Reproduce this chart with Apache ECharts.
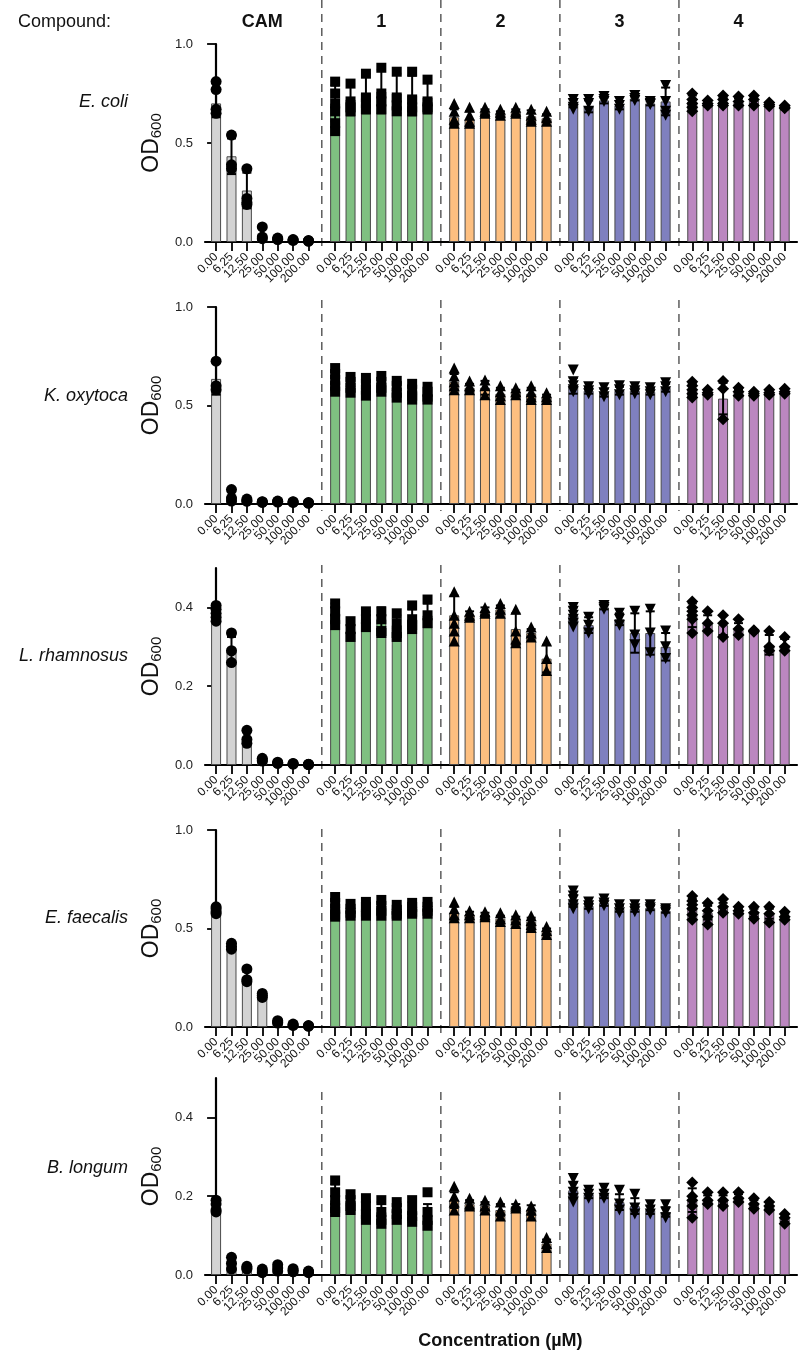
<!DOCTYPE html>
<html><head><meta charset="utf-8">
<script src="https://cdn.jsdelivr.net/npm/echarts@6/dist/echarts.min.js"></script>
<style>html,body{margin:0;padding:0;background:#fff}#c{width:799px;height:1356px}</style>
</head><body><div id="c"></div>
<script>
const compounds = ['CAM','1','2','3','4'];
const concLabels = ['0.00','6.25','12.50','25.00','50.00','100.00','200.00'];
const organisms = ['E. coli','K. oxytoca','L. rhamnosus','E. faecalis','B. longum'];
const yTickVals = [[0,0.5,1],[0,0.5,1],[0,0.2,0.4],[0,0.5,1],[0,0.2,0.4]];
const yMaxes = [1, 1, 0.5, 1, 0.5];

// E. coli
const ecoliMean = [
 [0.70,0.433,0.26,0.04,0.015,0.01,0.005],
 [0.70,0.72,0.75,0.76,0.75,0.74,0.73],
 [0.63,0.62,0.655,0.645,0.655,0.635,0.625],
 [0.70,0.685,0.715,0.69,0.725,0.70,0.71],
 [0.71,0.70,0.71,0.705,0.715,0.695,0.68]
];
const ecoliErr = [
 [0.07,0.09,0.09,0.03,0.005,0.004,0.003],
 [0.09,0.08,0.10,0.11,0.10,0.10,0.08],
 [0.04,0.04,0.015,0.015,0.015,0.03,0.02],
 [0.02,0.03,0.015,0.02,0.01,0.01,0.07],
 [0.03,0.015,0.02,0.02,0.02,0.01,0.01]
];
const ecoliPts = [
 [[0.81,0.77,0.67,0.65],[0.54,0.39,0.37],[0.37,0.22,0.20,0.19],[0.076,0.025,0.017],[0.02,0.015,0.012],[0.012,0.01,0.008],[0.007,0.005,0.004]],
 [[0.81,0.75,0.70,0.66,0.60,0.56],[0.80,0.71,0.68,0.66],[0.85,0.73,0.70,0.67],[0.88,0.75,0.71,0.67],[0.86,0.73,0.69,0.66],[0.86,0.72,0.68,0.66],[0.82,0.71,0.68,0.67]],
 [[0.70,0.66,0.62,0.60],[0.68,0.64,0.61,0.60],[0.68,0.66,0.65],[0.67,0.655,0.64],[0.68,0.66,0.65],[0.67,0.64,0.62,0.61],[0.66,0.63,0.61]],
 [[0.72,0.70,0.68,0.67],[0.72,0.70,0.66],[0.735,0.72,0.71],[0.71,0.69,0.67],[0.74,0.725,0.715],[0.71,0.70,0.695],[0.79,0.71,0.66,0.64]],
 [[0.75,0.72,0.70,0.68,0.66],[0.715,0.70,0.69],[0.74,0.72,0.70,0.69],[0.735,0.71,0.69],[0.74,0.72,0.69],[0.705,0.695,0.685],[0.69,0.68,0.675]]
];
// K. oxytoca
const koxyMean = [
 [0.635,0.04,0.018,0.01,0.012,0.01,0.005],
 [0.62,0.60,0.59,0.605,0.58,0.57,0.56],
 [0.62,0.59,0.59,0.56,0.565,0.56,0.54],
 [0.60,0.575,0.565,0.575,0.575,0.57,0.59],
 [0.58,0.565,0.535,0.565,0.56,0.565,0.57]
];
const koxyErr = [
 [0.08,0.03,0.005,0.003,0.003,0.002,0.002],
 [0.05,0.03,0.04,0.035,0.035,0.035,0.03],
 [0.04,0.02,0.035,0.03,0.015,0.03,0.015],
 [0.04,0.015,0.02,0.02,0.015,0.015,0.02],
 [0.03,0.01,0.08,0.015,0.01,0.01,0.01]
];
const koxyPts = [
 [[0.725,0.60,0.58],[0.073,0.03,0.015],[0.025,0.015,0.015],[0.012,0.01,0.008],[0.015,0.012,0.01],[0.012,0.01,0.008],[0.007,0.005,0.004]],
 [[0.69,0.66,0.63,0.60,0.57],[0.645,0.62,0.59,0.565],[0.64,0.61,0.58,0.55],[0.65,0.62,0.59,0.57],[0.625,0.60,0.565,0.54],[0.61,0.58,0.55,0.53],[0.595,0.57,0.545,0.53]],
 [[0.69,0.65,0.62,0.60,0.58],[0.625,0.60,0.58],[0.63,0.60,0.555],[0.60,0.57,0.55,0.53],[0.59,0.57,0.555],[0.60,0.57,0.545,0.53],[0.565,0.545,0.53]],
 [[0.68,0.62,0.60,0.58,0.57],[0.595,0.575,0.56],[0.59,0.565,0.545],[0.60,0.58,0.555],[0.595,0.575,0.56],[0.59,0.57,0.555],[0.615,0.595,0.57]],
 [[0.62,0.60,0.58,0.56,0.54],[0.58,0.565,0.555],[0.625,0.585,0.43],[0.59,0.57,0.55],[0.57,0.56,0.55],[0.58,0.565,0.555],[0.585,0.57,0.56]]
];
// L. rhamnosus
const lrhaMean = [
 [0.385,0.29,0.068,0.013,0.005,0.003,0.001],
 [0.385,0.34,0.37,0.37,0.355,0.37,0.38],
 [0.38,0.38,0.39,0.395,0.345,0.335,0.27],
 [0.38,0.355,0.40,0.37,0.335,0.335,0.30],
 [0.38,0.36,0.355,0.345,0.34,0.305,0.305]
];
const lrhaErr = [
 [0.015,0.035,0.015,0.003,0.002,0.001,0.001],
 [0.025,0.02,0.02,0.03,0.025,0.025,0.03],
 [0.05,0.01,0.01,0.01,0.04,0.01,0.035],
 [0.02,0.02,0.005,0.015,0.05,0.055,0.035],
 [0.03,0.02,0.025,0.015,0.003,0.025,0.015]
];
const lrhaPts = [
 [[0.405,0.395,0.385,0.375,0.365],[0.335,0.29,0.26],[0.088,0.065,0.055],[0.017,0.013,0.01],[0.007,0.005,0.004],[0.004,0.003,0.002],[0.002,0.001,0.001]],
 [[0.41,0.39,0.37,0.355],[0.365,0.345,0.325],[0.39,0.37,0.35],[0.39,0.37,0.34,0.335],[0.385,0.36,0.335,0.325],[0.405,0.37,0.355,0.345],[0.42,0.38,0.36]],
 [[0.44,0.38,0.36,0.34,0.315],[0.39,0.38,0.375],[0.40,0.39,0.385],[0.41,0.395,0.385],[0.395,0.34,0.32,0.31],[0.35,0.335,0.325],[0.315,0.27,0.24]],
 [[0.40,0.39,0.38,0.37,0.36,0.35],[0.375,0.355,0.335],[0.405,0.40,0.395],[0.385,0.37,0.355],[0.39,0.33,0.305],[0.395,0.335,0.285],[0.34,0.30,0.27]],
 [[0.415,0.40,0.39,0.38,0.37,0.335],[0.39,0.36,0.34],[0.38,0.36,0.325],[0.37,0.345,0.33],[0.342,0.34,0.338],[0.34,0.30,0.29],[0.325,0.30,0.29]]
];
// E. faecalis
const efaeMean = [
 [0.595,0.41,0.25,0.16,0.025,0.01,0.005],
 [0.61,0.595,0.60,0.605,0.59,0.60,0.605],
 [0.58,0.57,0.57,0.55,0.545,0.535,0.485],
 [0.64,0.615,0.63,0.60,0.60,0.605,0.59],
 [0.61,0.58,0.605,0.59,0.58,0.575,0.56]
];
const efaeErr = [
 [0.015,0.01,0.03,0.01,0.005,0.003,0.002],
 [0.04,0.02,0.025,0.03,0.02,0.02,0.02],
 [0.03,0.015,0.01,0.015,0.015,0.02,0.015],
 [0.03,0.015,0.015,0.015,0.015,0.012,0.01],
 [0.04,0.035,0.025,0.015,0.02,0.025,0.015]
];
const efaePts = [
 [[0.61,0.60,0.585,0.575],[0.425,0.41,0.395],[0.295,0.24,0.23],[0.17,0.16,0.15],[0.032,0.025,0.02],[0.015,0.01,0.008],[0.007,0.005,0.004]],
 [[0.66,0.63,0.60,0.57,0.56],[0.625,0.60,0.58,0.565],[0.635,0.61,0.585,0.565],[0.645,0.615,0.59,0.565],[0.62,0.595,0.575,0.565],[0.63,0.61,0.585,0.575],[0.635,0.61,0.59,0.575]],
 [[0.635,0.60,0.57,0.555],[0.59,0.57,0.555],[0.585,0.57,0.56],[0.58,0.55,0.535],[0.57,0.545,0.525],[0.565,0.54,0.52,0.505],[0.51,0.49,0.47]],
 [[0.69,0.665,0.645,0.62,0.60],[0.635,0.615,0.60],[0.65,0.63,0.615],[0.62,0.60,0.58],[0.62,0.60,0.585],[0.62,0.605,0.595],[0.60,0.59,0.58]],
 [[0.665,0.64,0.62,0.60,0.57,0.545],[0.63,0.59,0.56,0.52],[0.65,0.61,0.58],[0.61,0.59,0.575],[0.61,0.58,0.55],[0.61,0.575,0.53],[0.585,0.56,0.545]]
];
// B. longum
const blonMean = [
 [0.17,0.03,0.018,0.01,0.018,0.012,0.008],
 [0.19,0.185,0.165,0.16,0.165,0.16,0.15],
 [0.19,0.18,0.175,0.165,0.175,0.165,0.08],
 [0.215,0.205,0.205,0.185,0.175,0.165,0.16],
 [0.19,0.19,0.19,0.195,0.18,0.175,0.145]
];
const blonErr = [
 [0.015,0.015,0.003,0.004,0.008,0.004,0.002],
 [0.04,0.02,0.025,0.025,0.02,0.025,0.03],
 [0.02,0.01,0.01,0.015,0.005,0.012,0.01],
 [0.02,0.01,0.01,0.02,0.02,0.01,0.012],
 [0.03,0.012,0.012,0.01,0.01,0.01,0.01]
];
const blonPts = [
 [[0.19,0.18,0.165,0.16],[0.045,0.03,0.015],[0.022,0.018,0.015],[0.015,0.01,0.006],[0.026,0.018,0.01],[0.016,0.012,0.008],[0.01,0.008,0.006]],
 [[0.24,0.21,0.19,0.17,0.16],[0.205,0.19,0.175,0.165],[0.195,0.175,0.155,0.14],[0.19,0.16,0.14,0.13],[0.185,0.17,0.155,0.14],[0.19,0.165,0.15,0.135],[0.21,0.16,0.14,0.125]],
 [[0.225,0.20,0.185,0.165],[0.195,0.18,0.175],[0.19,0.175,0.165],[0.185,0.165,0.15],[0.18,0.175,0.17],[0.175,0.165,0.15],[0.095,0.08,0.07]],
 [[0.245,0.225,0.21,0.195,0.185],[0.215,0.205,0.195],[0.22,0.205,0.195],[0.215,0.18,0.165],[0.205,0.17,0.155],[0.178,0.165,0.155],[0.178,0.16,0.145]],
 [[0.235,0.20,0.19,0.175,0.145],[0.21,0.19,0.18],[0.21,0.19,0.175],[0.21,0.195,0.185],[0.195,0.18,0.168],[0.185,0.175,0.165],[0.155,0.145,0.13]]
];

const rowMeans = [ecoliMean, koxyMean, lrhaMean, efaeMean, blonMean];
const rowErrs = [ecoliErr, koxyErr, lrhaErr, efaeErr, blonErr];
const rowPts = [ecoliPts, koxyPts, lrhaPts, efaePts, blonPts];

// ---- layout / style ----
const FONT = 'Liberation Sans, Arial, Helvetica, sans-serif';
const GROUP_STEP = 7.73, X_MIN = -0.72, X_MAX = 37.72;
const GRID_LEFT = 205, GRID_RIGHT = 2;
const rowTop = [44, 307, 568, 830, 1078];
const rowH = [198, 197, 197, 197, 197];
const dashTop = [0, 300, 565, 829, 1092];
const rowLabelY = [102, 396, 656, 918, 1168];
const barColors = ['#d3d3d3', '#7fc081', '#fdbf80', '#7f80bf', '#bb87c0'];
const symbols = ['circle', 'rect', 'triangle', 'triangle', 'diamond'];
const symbolRot = [0, 0, 0, 180, 0];
const symbolSz = [11, 10, 11, 11, 12];

const pos = (g, i) => +(g * GROUP_STEP + i).toFixed(3);
const tickPos = [];
const labelMap = {};
for (let g = 0; g < 5; g++) for (let i = 0; i < 7; i++) { tickPos.push(pos(g, i)); labelMap[pos(g, i).toFixed(2)] = concLabels[i]; }
// blank guard labels at both axis ends so no real label is treated as the min/max label
const labelPos = [X_MIN].concat(tickPos, [X_MAX]);

const grids = [], xAxes = [], yAxes = [], series = [];
for (let r = 0; r < 5; r++) {
  grids.push({ left: GRID_LEFT, right: GRID_RIGHT, top: rowTop[r], height: rowH[r], containLabel: false });
  xAxes.push({
    gridIndex: r, type: 'value', min: X_MIN, max: X_MAX,
    axisLine: { show: true, onZero: false, lineStyle: { color: '#000', width: 2.2 } },
    axisTick: { show: true, customValues: tickPos, length: 9, lineStyle: { color: '#000', width: 1.8 } },
    axisLabel: { customValues: labelPos, rotate: 45, margin: 13, fontSize: 12, color: '#111', fontFamily: FONT,
      showMinLabel: false, showMaxLabel: false, hideOverlap: false,
      formatter: v => labelMap[(+v).toFixed(2)] || ' ' },
    splitLine: { show: false }
  });
  yAxes.push({
    gridIndex: r, type: 'value', min: 0, max: yMaxes[r],
    name: '{a|OD}{b|600}', nameLocation: 'middle', nameRotate: 90, nameGap: 40,
    nameTextStyle: { rich: {
      a: { fontSize: 23, fontFamily: FONT, color: '#111' },
      b: { fontSize: 15, fontFamily: FONT, color: '#111', padding: [10, 0, 0, 0] }
    } },
    axisLine: { show: true, lineStyle: { color: '#000', width: 2.2 } },
    axisTick: { show: true, customValues: yTickVals[r], length: 9, lineStyle: { color: '#000', width: 1.8 } },
    axisLabel: { customValues: yTickVals[r], margin: 12, fontSize: 13, color: '#222', fontFamily: FONT,
      showMinLabel: true, showMaxLabel: true,
      formatter: v => (+v).toFixed(1) },
    splitLine: { show: false }
  });
  const M = rowMeans[r], E = rowErrs[r], P = rowPts[r];
  const barData = [], errData = [];
  for (let g = 0; g < 5; g++) for (let i = 0; i < 7; i++) {
    barData.push({ value: [pos(g, i), M[g][i]], itemStyle: { color: barColors[g] } });
    errData.push([pos(g, i), M[g][i], E[g][i]]);
  }
  series.push({
    type: 'bar', xAxisIndex: r, yAxisIndex: r, barWidth: 10, data: barData, z: 2,
    itemStyle: { borderColor: '#4a4a4a', borderWidth: 1 }, animation: false, silent: true
  });
  series.push({
    type: 'custom', xAxisIndex: r, yAxisIndex: r, data: errData, z: 3, animation: false, silent: true,
    renderItem: (params, api) => {
      const x = api.value(0), m = api.value(1), e = api.value(2);
      const t = api.coord([x, m + e]);
      const b = api.coord([x, Math.max(0, m - e)]);
      const hw = 4.5, st = { stroke: '#000', lineWidth: 2 };
      return { type: 'group', children: [
        { type: 'line', shape: { x1: t[0], y1: t[1], x2: b[0], y2: b[1] }, style: st },
        { type: 'line', shape: { x1: t[0] - hw, y1: t[1], x2: t[0] + hw, y2: t[1] }, style: st },
        { type: 'line', shape: { x1: b[0] - hw, y1: b[1], x2: b[0] + hw, y2: b[1] }, style: st }
      ] };
    }
  });
  for (let g = 0; g < 5; g++) {
    const d = [];
    for (let i = 0; i < 7; i++) for (const v of P[g][i]) d.push([pos(g, i), v]);
    series.push({
      type: 'scatter', xAxisIndex: r, yAxisIndex: r, data: d, z: 4, animation: false, silent: true,
      symbol: symbols[g], symbolRotate: symbolRot[g], symbolSize: symbolSz[g],
      itemStyle: { color: '#000', opacity: 1 }
    });
  }
}

const chart = echarts.init(document.getElementById('c'), null, { renderer: 'canvas' });
chart.setOption({ animation: false, backgroundColor: '#fff', grid: grids, xAxis: xAxes, yAxis: yAxes, series });

// annotations positioned through the axis scale
const graphics = [];
const txt = (x, y, text, font, align) => ({ type: 'text', x, y, silent: true,
  style: { text, font, fill: '#111', align, verticalAlign: 'middle', textAlign: align, textVerticalAlign: 'middle' } });
graphics.push(txt(18, 22, 'Compound:', '18px ' + FONT, 'left'));
for (let g = 0; g < 5; g++) {
  const cx = chart.convertToPixel({ xAxisIndex: 0 }, pos(g, 3));
  graphics.push(txt(cx, 22, compounds[g], 'bold 18px ' + FONT, 'center'));
}
for (let r = 0; r < 5; r++) {
  graphics.push(txt(128, rowLabelY[r], organisms[r], 'italic 18px ' + FONT, 'right'));
  const y0 = chart.convertToPixel({ yAxisIndex: r }, 0);
  for (let g = 1; g < 5; g++) {
    const sx = chart.convertToPixel({ xAxisIndex: r }, (pos(g - 1, 6) + pos(g, 0)) / 2);
    graphics.push({ type: 'line', silent: true, shape: { x1: sx, y1: dashTop[r], x2: sx, y2: y0 + 7 },
      style: { stroke: '#444', lineWidth: 1.3, lineDash: [8, 6] } });
  }
}
const midX = chart.convertToPixel({ xAxisIndex: 4 }, pos(2, 3));
graphics.push(txt(midX, 1341, 'Concentration (µM)', 'bold 18px ' + FONT, 'center'));
chart.setOption({ graphic: graphics });
</script></body></html>
